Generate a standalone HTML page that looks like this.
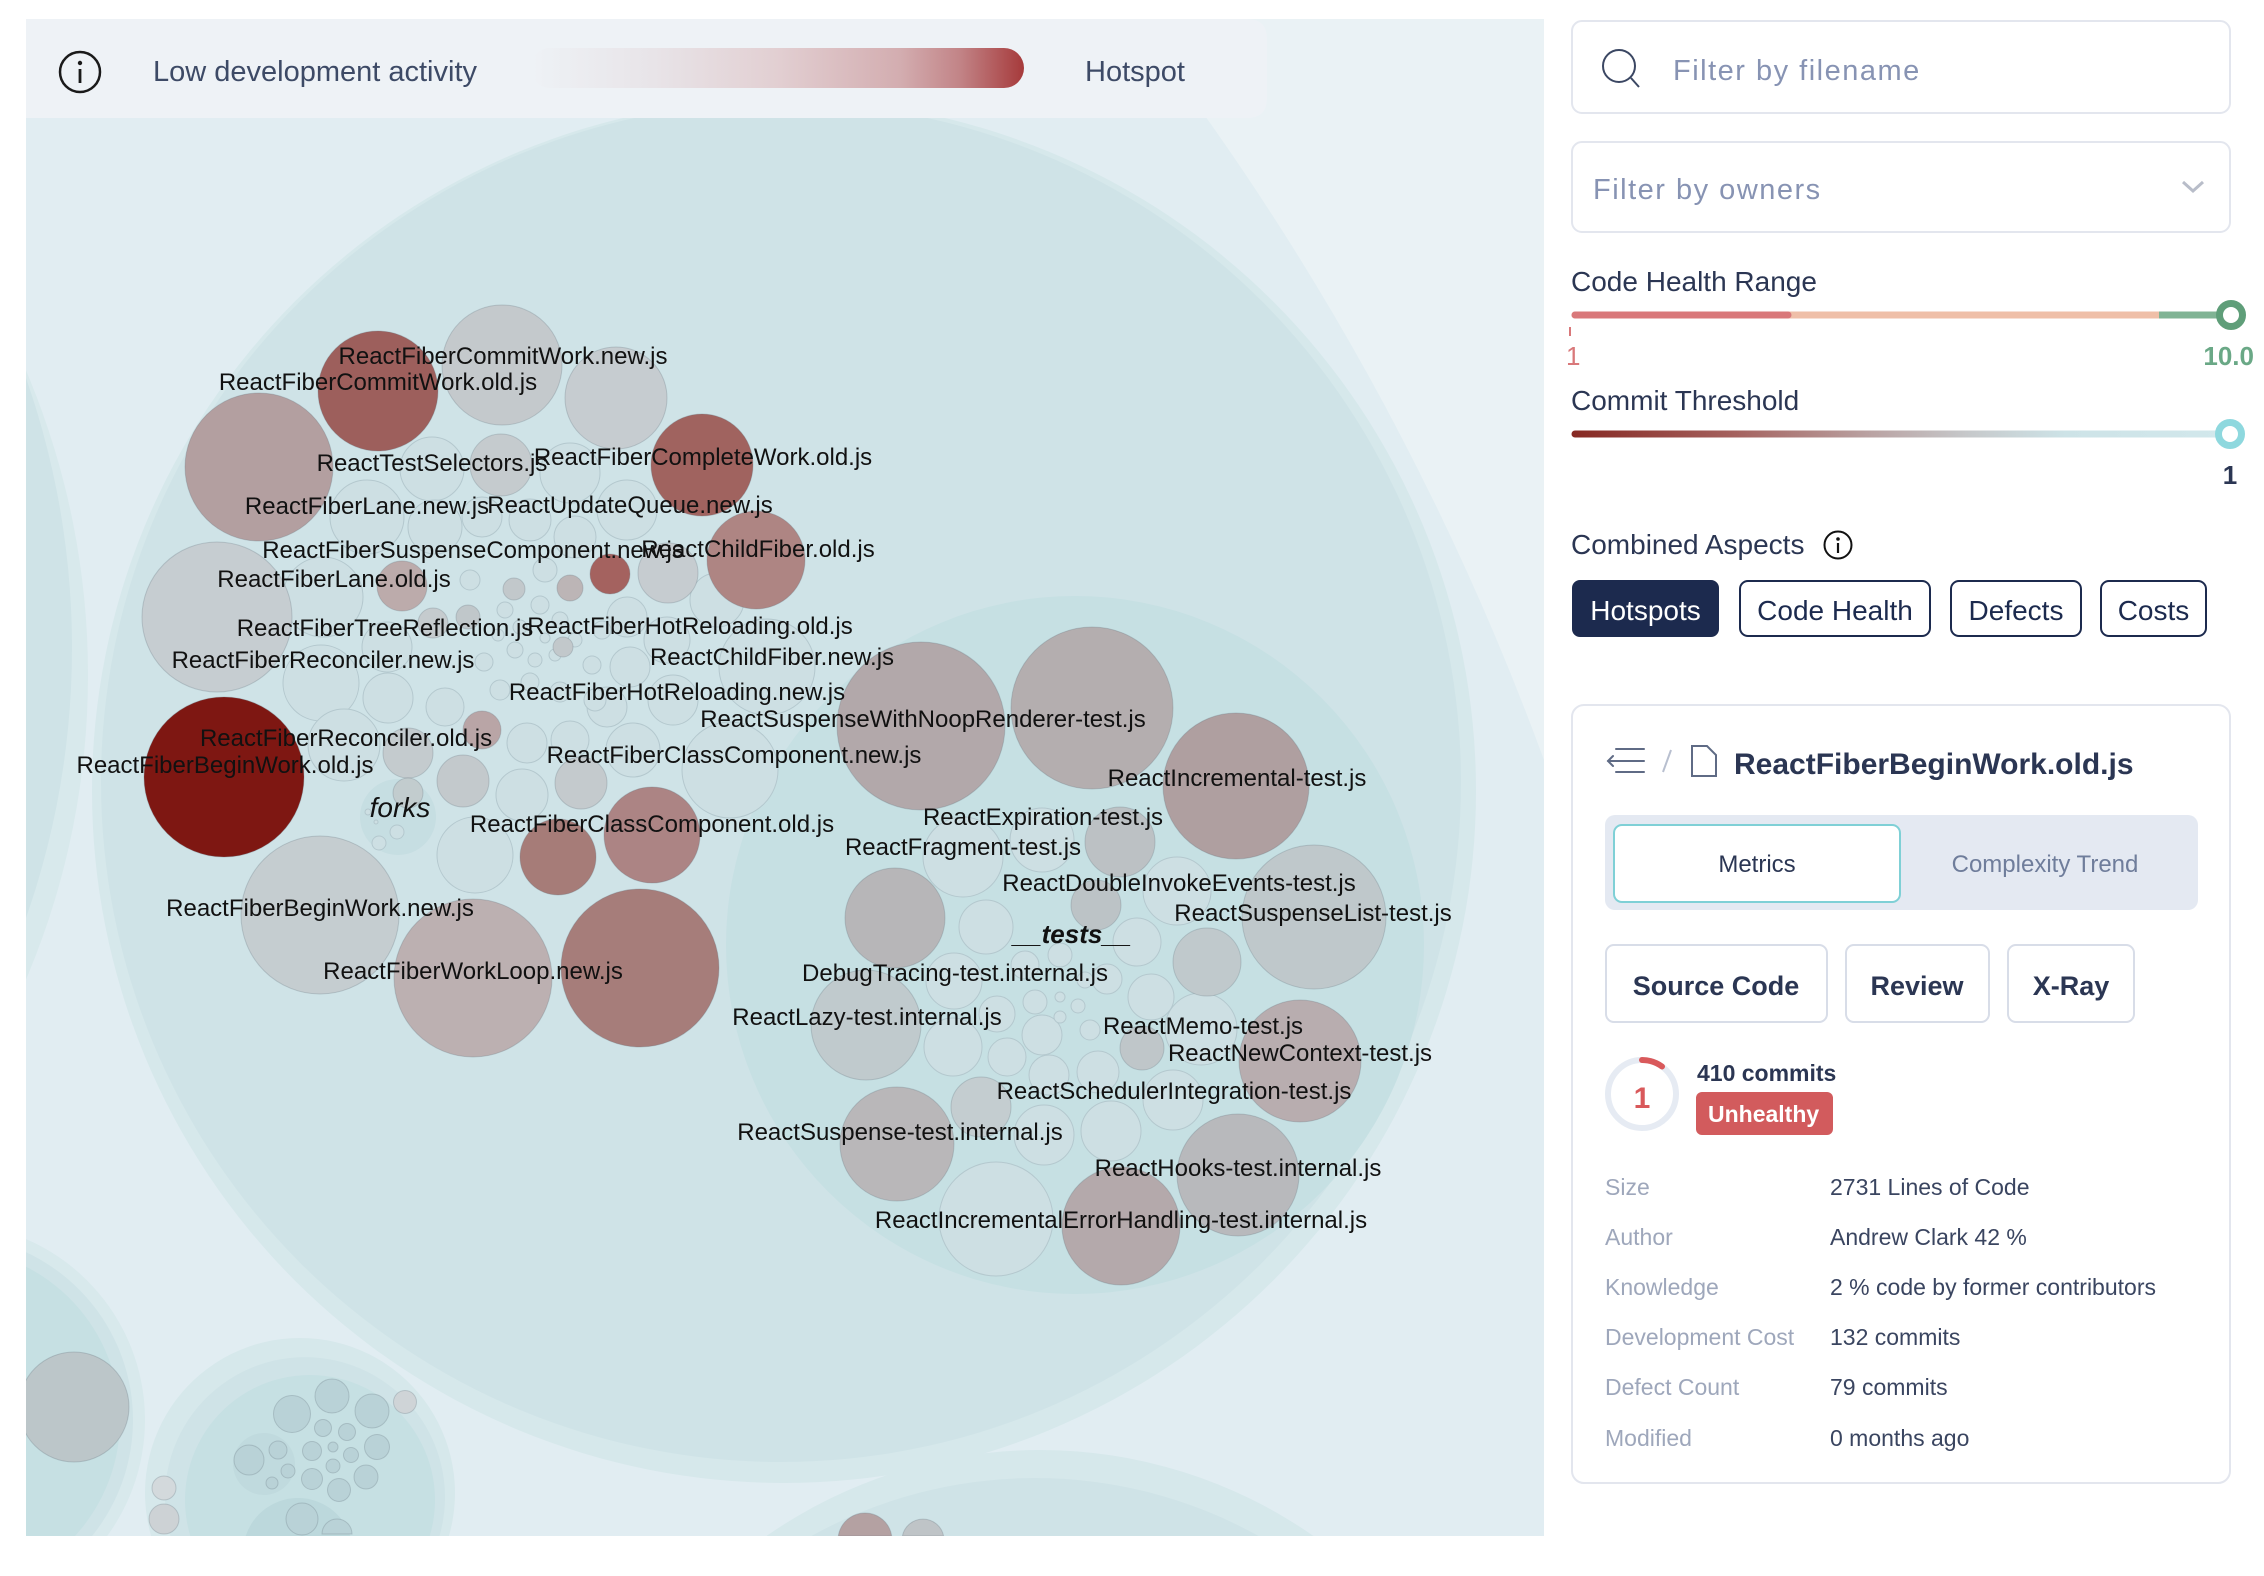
<!DOCTYPE html>
<html><head><meta charset="utf-8"><style>
html,body{margin:0;padding:0;background:#fff;width:2264px;height:1576px;overflow:hidden;}
svg{display:block;}
.t{font-size:24px;fill:#111;text-anchor:middle;}
.f{fill:#cddfe3;stroke:#b4c8ce;stroke-width:1;}
.s{stroke:rgba(100,115,125,.28);stroke-width:1;}
</style></head><body>
<svg xmlns="http://www.w3.org/2000/svg" width="2264" height="1576" viewBox="0 0 2264 1576" font-family="'Liberation Sans', Arial, sans-serif" style="overflow:hidden">
<defs>
<clipPath id="cp"><rect x="26" y="19" width="1518" height="1517"/></clipPath>
<linearGradient id="lg" gradientUnits="userSpaceOnUse" x1="530" y1="0" x2="1024" y2="0">
<stop offset="0" stop-color="#eef2f6"/><stop offset="0.25" stop-color="#e8e4e8"/><stop offset="0.5" stop-color="#e2cfd2"/><stop offset="0.75" stop-color="#d3adb0"/><stop offset="0.87" stop-color="#c28487"/><stop offset="1" stop-color="#a63a3b"/>
</linearGradient>
<linearGradient id="ct" gradientUnits="userSpaceOnUse" x1="1571" y1="0" x2="2230" y2="0">
<stop offset="0" stop-color="#862822"/><stop offset="0.25" stop-color="#a5625f"/><stop offset="0.45" stop-color="#b9a1a1"/><stop offset="0.6" stop-color="#c6c8ca"/><stop offset="0.75" stop-color="#cde3e7"/><stop offset="1" stop-color="#d2e8ec"/>
</linearGradient>
</defs>

<g clip-path="url(#cp)">
<rect x="26" y="19" width="1518" height="1517" fill="#e1edf2"/>
<path d="M1133 19 A2743 2743 0 0 1 1544 760 L1544 19 Z" fill="#eaf2f5"/>
<circle cx="-691" cy="675" r="779" fill="#d8e9ec"/>
<circle cx="-743" cy="648" r="815" fill="#cfe3e7"/>
<path d="M-211.2 1536 A197 197 0 1 1 107.2 1536 Z" fill="#d8e9ec"/>
<path d="M-196.1 1536 A185 185 0 1 1 92.1 1536 Z" fill="#cfe3e7"/>
<path d="M-179 1536 A172 172 0 1 1 75 1536 Z" fill="#c6e0e3"/>
<circle class="s" cx="74" cy="1407" r="55" fill="#bcc6c9"/>
<path d="M151.1 1536 A155 155 0 1 1 448.9 1536 Z" fill="#d6e8eb"/>
<path d="M170.5 1536 A140 140 0 1 1 439.5 1536 Z" fill="#cfe3e7"/>
<path d="M190.3 1536 A125 125 0 1 1 429.7 1536 Z" fill="#c6e0e3"/>
<circle cx="264" cy="1464" r="31" fill="#c0dade"/>
<path d="M245.7 1536 A55 55 0 0 1 350.3 1536 Z" fill="#bcd8dc"/>
<g class="s" fill="#b9d2d7">
<circle cx="332" cy="1396" r="17"/><circle cx="292" cy="1414" r="18.5"/><circle cx="372" cy="1411" r="17"/>
<circle cx="323" cy="1428" r="8.5"/><circle cx="347" cy="1432" r="8.5"/><circle cx="377" cy="1447" r="12.5"/>
<circle cx="312" cy="1451" r="9.5"/><circle cx="333" cy="1447" r="5"/><circle cx="351" cy="1455" r="7.5"/>
<circle cx="249" cy="1460" r="15"/><circle cx="278" cy="1450" r="9"/><circle cx="288" cy="1471" r="7"/>
<circle cx="272" cy="1483" r="6"/><circle cx="333" cy="1466" r="7"/><circle cx="312" cy="1479" r="10.5"/>
<circle cx="366" cy="1477" r="12"/><circle cx="339" cy="1490" r="11.5"/><circle cx="302" cy="1519" r="16"/>
<path d="M322 1534 A15 15 0 1 1 352 1534 Z"/>
</g>
<circle class="s" cx="405" cy="1402" r="11.5" fill="#cfd4d7"/>
<circle class="s" cx="164" cy="1488" r="12" fill="#d3d9dc"/>
<circle class="s" cx="164" cy="1519" r="15" fill="#cdd2d5"/>
<path d="M766.5 1536 A478 478 0 0 1 1313.5 1536 Z" fill="#d6e8eb"/>
<path d="M811.4 1536 A460 460 0 0 1 1258.6 1536 Z" fill="#cfe3e7"/>
<path class="s" d="M838.3 1536 A27 27 0 0 1 891.7 1536 Z" fill="#b4a1a2"/>
<path class="s" d="M902.4 1536 A21 21 0 0 1 943.6 1536 Z" fill="#bfc4c7"/>
<circle class="f" cx="855" cy="1470" r="4"/><circle class="f" cx="862" cy="1466" r="3"/><circle class="f" cx="842" cy="1473" r="2"/>

<circle cx="784" cy="791" r="692" fill="#d6e8eb"/>
<circle cx="781" cy="782" r="680" fill="#cfe3e7"/>
<circle cx="1075" cy="945" r="349" fill="#c6e0e3"/>
<circle cx="398" cy="817" r="38" fill="#c6dee2"/>

<g class="f">
<circle cx="432" cy="469" r="32"/><circle cx="367" cy="517" r="37"/><circle cx="435" cy="527" r="27"/>
<circle cx="482" cy="517" r="20"/><circle cx="530" cy="520" r="21"/><circle cx="575" cy="537" r="21"/>
<circle cx="627" cy="510" r="30"/><circle cx="570" cy="473" r="30"/><circle cx="627" cy="617" r="20"/>
<circle cx="667" cy="640" r="23"/><circle cx="630" cy="667" r="20"/><circle cx="673" cy="700" r="25"/>
<circle cx="607" cy="707" r="20"/><circle cx="570" cy="740" r="19"/><circle cx="527" cy="743" r="20"/>
<circle cx="323" cy="597" r="40"/><circle cx="387" cy="647" r="25"/><circle cx="321" cy="683" r="38"/>
<circle cx="388" cy="698" r="25"/><circle cx="445" cy="707" r="19"/><circle cx="344" cy="745" r="36"/>
<circle cx="475" cy="855" r="38"/><circle cx="522" cy="795" r="26"/><circle cx="730" cy="770" r="48"/>
<circle cx="767" cy="667" r="48"/><circle cx="633" cy="750" r="27"/><circle cx="717" cy="600" r="27"/>
<circle cx="505" cy="610" r="8"/><circle cx="520" cy="627" r="7"/><circle cx="540" cy="605" r="9"/>
<circle cx="560" cy="620" r="8"/><circle cx="575" cy="640" r="7"/><circle cx="555" cy="655" r="6"/>
<circle cx="535" cy="660" r="7"/><circle cx="515" cy="650" r="8"/><circle cx="498" cy="635" r="6"/>
<circle cx="545" cy="638" r="5"/><circle cx="530" cy="682" r="9"/><circle cx="560" cy="692" r="10"/>
<circle cx="592" cy="665" r="9"/><circle cx="595" cy="700" r="11"/><circle cx="500" cy="690" r="10"/>
<circle cx="484" cy="662" r="9"/><circle cx="602" cy="630" r="9"/><circle cx="470" cy="580" r="10"/>
<circle cx="545" cy="570" r="12"/><circle cx="397" cy="832" r="7"/><circle cx="379" cy="843" r="7"/>
<circle cx="368" cy="812" r="3"/><circle cx="376" cy="822" r="2"/>
</g>
<g class="s">
<circle cx="378" cy="391" r="60" fill="#9d5f5c"/>
<circle cx="502" cy="365" r="60" fill="#c4c9cc"/>
<circle cx="616" cy="398" r="51" fill="#c6ccd0"/>
<circle cx="259" cy="467" r="74" fill="#b39fa0"/>
<circle cx="702" cy="465" r="51" fill="#a0635f"/>
<circle cx="217" cy="617" r="75" fill="#c6cdd1"/>
<circle cx="756" cy="560" r="49" fill="#ae8583"/>
<circle cx="610" cy="574" r="20" fill="#a4625f"/>
<circle cx="501" cy="465" r="31" fill="#c5cbce"/>
<circle cx="402" cy="586" r="25" fill="#bcabab"/>
<circle cx="570" cy="588" r="13" fill="#bcb5b6"/>
<circle cx="514" cy="589" r="11" fill="#c2c8cb"/>
<circle cx="668" cy="573" r="30" fill="#c6ccd0"/>
<circle cx="482" cy="730" r="19" fill="#b9a5a6"/>
<circle cx="463" cy="781" r="26" fill="#c3c9cc"/>
<circle cx="408" cy="753" r="25" fill="#c4cbce"/>
<circle cx="581" cy="783" r="26" fill="#c4cacd"/>
<circle cx="468" cy="617" r="12" fill="#c0c7ca"/>
<circle cx="433" cy="623" r="15" fill="#c5cbce"/>
<circle cx="563" cy="647" r="10" fill="#c2c8cb"/>
<circle cx="408" cy="793" r="15" fill="#c2ccce"/>
<circle cx="224" cy="777" r="80" fill="#7e1712"/>
<circle cx="320" cy="915" r="79" fill="#c5cdd0"/>
<circle cx="473" cy="978" r="79" fill="#bcb0b1"/>
<circle cx="640" cy="968" r="79" fill="#a67d7a"/>
<circle cx="558" cy="857" r="38" fill="#a67c78"/>
<circle cx="652" cy="835" r="48" fill="#ac8484"/>
</g>
<g class="f">
<circle cx="996" cy="1219" r="57"/><circle cx="963" cy="857" r="40"/><circle cx="1042" cy="840" r="32"/>
<circle cx="1177" cy="891" r="34"/><circle cx="986" cy="927" r="27"/><circle cx="1137" cy="942" r="24"/>
<circle cx="1151" cy="997" r="23"/><circle cx="954" cy="981" r="28"/><circle cx="997" cy="1014" r="18"/>
<circle cx="1042" cy="1035" r="20"/><circle cx="953" cy="1047" r="29"/><circle cx="1007" cy="1057" r="19"/>
<circle cx="1049" cy="1075" r="20"/><circle cx="1098" cy="1072" r="21"/><circle cx="1044" cy="1135" r="30"/>
<circle cx="1111" cy="1131" r="30"/><circle cx="1173" cy="1100" r="30"/><circle cx="1201" cy="1029" r="36"/>
<circle cx="1060" cy="997" r="5"/><circle cx="1078" cy="1006" r="7"/><circle cx="1060" cy="1017" r="6"/>
<circle cx="1035" cy="1002" r="12"/><circle cx="1107" cy="979" r="15"/><circle cx="1085" cy="980" r="8"/>
<circle cx="1090" cy="1030" r="10"/><circle cx="1025" cy="965" r="14"/><circle cx="1060" cy="955" r="12"/>
</g>
<g class="s">
<circle cx="921" cy="726" r="84" fill="#b2a8aa"/>
<circle cx="1092" cy="708" r="81" fill="#b4aeaf"/>
<circle cx="1236" cy="786" r="73" fill="#af9fa0"/>
<circle cx="1314" cy="917" r="72" fill="#bfc8cb"/>
<circle cx="895" cy="918" r="50" fill="#b7b6b8"/>
<circle cx="866" cy="1025" r="55" fill="#c0cacd"/>
<circle cx="1300" cy="1061" r="61" fill="#b8adaf"/>
<circle cx="897" cy="1144" r="57" fill="#b9b7b9"/>
<circle cx="1238" cy="1175" r="61" fill="#b8b9bc"/>
<circle cx="1121" cy="1226" r="59" fill="#b4a9ab"/>
<circle cx="1120" cy="842" r="35" fill="#bcc1c4"/>
<circle cx="1096" cy="905" r="25" fill="#bcc3c6"/>
<circle cx="1207" cy="962" r="34" fill="#c0c9cc"/>
<circle cx="1142" cy="1048" r="22" fill="#bfc6c9"/>
<circle cx="981" cy="1107" r="30" fill="#c4cdd0"/>
</g>

<g class="t">
<text x="503" y="364">ReactFiberCommitWork.new.js</text>
<text x="378" y="390">ReactFiberCommitWork.old.js</text>
<text x="432" y="471">ReactTestSelectors.js</text>
<text x="703" y="465">ReactFiberCompleteWork.old.js</text>
<text x="367" y="514">ReactFiberLane.new.js</text>
<text x="630" y="513">ReactUpdateQueue.new.js</text>
<text x="473" y="558">ReactFiberSuspenseComponent.new.js</text>
<text x="758" y="557">ReactChildFiber.old.js</text>
<text x="334" y="587">ReactFiberLane.old.js</text>
<text x="385" y="636">ReactFiberTreeReflection.js</text>
<text x="690" y="634">ReactFiberHotReloading.old.js</text>
<text x="323" y="668">ReactFiberReconciler.new.js</text>
<text x="772" y="665">ReactChildFiber.new.js</text>
<text x="677" y="700">ReactFiberHotReloading.new.js</text>
<text x="923" y="727">ReactSuspenseWithNoopRenderer-test.js</text>
<text x="346" y="746">ReactFiberReconciler.old.js</text>
<text x="225" y="773">ReactFiberBeginWork.old.js</text>
<text x="734" y="763">ReactFiberClassComponent.new.js</text>
<text x="1237" y="786">ReactIncremental-test.js</text>
<text x="400" y="817" font-size="28" font-style="italic">forks</text>
<text x="652" y="832">ReactFiberClassComponent.old.js</text>
<text x="1043" y="825">ReactExpiration-test.js</text>
<text x="963" y="855">ReactFragment-test.js</text>
<text x="1179" y="891">ReactDoubleInvokeEvents-test.js</text>
<text x="320" y="916">ReactFiberBeginWork.new.js</text>
<text x="1313" y="921">ReactSuspenseList-test.js</text>
<text x="1072" y="943" font-size="26" font-style="italic" font-weight="bold">__tests__</text>
<text x="955" y="981">DebugTracing-test.internal.js</text>
<text x="473" y="979">ReactFiberWorkLoop.new.js</text>
<text x="867" y="1025">ReactLazy-test.internal.js</text>
<text x="1203" y="1034">ReactMemo-test.js</text>
<text x="1300" y="1061">ReactNewContext-test.js</text>
<text x="1174" y="1099">ReactSchedulerIntegration-test.js</text>
<text x="900" y="1140">ReactSuspense-test.internal.js</text>
<text x="1238" y="1176">ReactHooks-test.internal.js</text>
<text x="1121" y="1228">ReactIncrementalErrorHandling-test.internal.js</text>
</g>

<path d="M26 19 H1247 Q1267 19 1267 39 V98 Q1267 118 1247 118 H26 Z" fill="#eef2f6"/>
<circle cx="80" cy="72" r="20" fill="none" stroke="#1a1a1a" stroke-width="2.5"/>
<circle cx="80" cy="63" r="2.2" fill="#1a1a1a"/>
<line x1="80" y1="69" x2="80" y2="83" stroke="#1a1a1a" stroke-width="2.8"/>
<text x="153" y="81" font-size="29" fill="#3d4a66">Low development activity</text>
<rect x="530" y="48" width="494" height="40" rx="20" fill="url(#lg)"/>
<text x="1085" y="81" font-size="29" fill="#3d4a66">Hotspot</text>
</g>

<rect x="1572" y="21" width="658" height="92" rx="10" fill="#fff" stroke="#e3e6ee" stroke-width="2"/>
<circle cx="1619" cy="66" r="16" fill="none" stroke="#3b4763" stroke-width="2"/>
<line x1="1631" y1="78" x2="1639" y2="87" stroke="#3b4763" stroke-width="2"/>
<text x="1673" y="80" font-size="29" fill="#8793b3" letter-spacing="1.5">Filter by filename</text>

<rect x="1572" y="142" width="658" height="90" rx="10" fill="#fff" stroke="#e3e6ee" stroke-width="2"/>
<text x="1593" y="199" font-size="29" fill="#8793b3" letter-spacing="1.5">Filter by owners</text>
<polyline points="2183,182 2193,191 2203,182" fill="none" stroke="#b8bdc9" stroke-width="3"/>

<text x="1571" y="291" font-size="28" fill="#2b3653">Code Health Range</text>
<line x1="1575" y1="315" x2="2225" y2="315" stroke="#efbfa8" stroke-width="7" stroke-linecap="round"/>
<line x1="1575" y1="315" x2="1788" y2="315" stroke="#d9787a" stroke-width="7" stroke-linecap="round"/>
<line x1="2159" y1="315" x2="2225" y2="315" stroke="#80b394" stroke-width="7"/>
<circle cx="2231" cy="315" r="11.5" fill="#fff" stroke="#5f9e79" stroke-width="7"/>
<rect x="1569" y="327" width="2" height="9" fill="#d9787a"/>
<text x="1566" y="365" font-size="26" fill="#d9787a">1</text>
<text x="2254" y="365" font-size="26" font-weight="bold" fill="#6aa886" text-anchor="end">10.0</text>

<text x="1571" y="410" font-size="28" fill="#2b3653">Commit Threshold</text>
<line x1="1575" y1="434" x2="2225" y2="434" stroke="url(#ct)" stroke-width="7" stroke-linecap="round"/>
<circle cx="2230" cy="434" r="11.5" fill="#fff" stroke="#8ed8de" stroke-width="7"/>
<text x="2230" y="484" font-size="26" font-weight="bold" fill="#2b3653" text-anchor="middle">1</text>

<text x="1571" y="554" font-size="28" fill="#2b3653">Combined Aspects</text>
<circle cx="1838" cy="545" r="13.5" fill="none" stroke="#111" stroke-width="2"/>
<circle cx="1838" cy="539" r="1.8" fill="#111"/>
<line x1="1838" y1="543" x2="1838" y2="553" stroke="#111" stroke-width="2.2"/>

<rect x="1572" y="580" width="147" height="57" rx="8" fill="#1c2a4e"/>
<text x="1645.5" y="620" font-size="28" fill="#fff" text-anchor="middle">Hotspots</text>
<rect x="1740" y="581" width="190" height="55" rx="8" fill="#fff" stroke="#1c2a4e" stroke-width="2"/>
<text x="1835" y="620" font-size="28" fill="#1c2a4e" text-anchor="middle">Code Health</text>
<rect x="1951" y="581" width="130" height="55" rx="8" fill="#fff" stroke="#1c2a4e" stroke-width="2"/>
<text x="2016" y="620" font-size="28" fill="#1c2a4e" text-anchor="middle">Defects</text>
<rect x="2101" y="581" width="105" height="55" rx="8" fill="#fff" stroke="#1c2a4e" stroke-width="2"/>
<text x="2153.5" y="620" font-size="28" fill="#1c2a4e" text-anchor="middle">Costs</text>

<rect x="1572" y="705" width="658" height="778" rx="12" fill="#fff" stroke="#e3e6ee" stroke-width="2"/>
<g stroke="#5f6b85" stroke-width="2" fill="none" stroke-linecap="round">
<line x1="1616" y1="749" x2="1644" y2="749"/>
<line x1="1608" y1="761" x2="1644" y2="761"/>
<polyline points="1613,756 1608,761 1613,766"/>
<line x1="1616" y1="772" x2="1644" y2="772"/>
<path d="M1692 746 H1707 L1716 755 V776 H1692 Z"/>
</g>
<line x1="1671" y1="750" x2="1663" y2="772" stroke="#b8bfcf" stroke-width="2"/>
<text x="1734" y="774" font-size="30" font-weight="bold" fill="#2b3653">ReactFiberBeginWork.old.js</text>

<rect x="1605" y="815" width="593" height="95" rx="10" fill="#e4e9f2"/>
<rect x="1614" y="825" width="286" height="77" rx="8" fill="#fff" stroke="#7fd0d6" stroke-width="2"/>
<text x="1757" y="872" font-size="24" fill="#2b3653" text-anchor="middle">Metrics</text>
<text x="2045" y="872" font-size="24" fill="#6f7d9b" text-anchor="middle">Complexity Trend</text>

<rect x="1606" y="945" width="221" height="77" rx="8" fill="#fff" stroke="#d8dde8" stroke-width="2"/>
<text x="1716" y="995" font-size="27" font-weight="bold" fill="#2b3653" text-anchor="middle">Source Code</text>
<rect x="1846" y="945" width="143" height="77" rx="8" fill="#fff" stroke="#d8dde8" stroke-width="2"/>
<text x="1917" y="995" font-size="27" font-weight="bold" fill="#2b3653" text-anchor="middle">Review</text>
<rect x="2008" y="945" width="126" height="77" rx="8" fill="#fff" stroke="#d8dde8" stroke-width="2"/>
<text x="2071" y="995" font-size="27" font-weight="bold" fill="#2b3653" text-anchor="middle">X-Ray</text>

<circle cx="1642" cy="1094" r="34" fill="none" stroke="#e6ebf3" stroke-width="6"/>
<path d="M1642 1060 A34 34 0 0 1 1662 1066.5" fill="none" stroke="#d9595b" stroke-width="6" stroke-linecap="round"/>
<text x="1642" y="1108" font-size="30" font-weight="bold" fill="#d9595b" text-anchor="middle">1</text>
<text x="1697" y="1081" font-size="23" font-weight="bold" fill="#2b3653">410 commits</text>
<rect x="1696" y="1092" width="137" height="43" rx="6" fill="#d25b5d"/>
<text x="1708" y="1122" font-size="23" font-weight="bold" fill="#fff">Unhealthy</text>

<g font-size="23">
<text x="1605" y="1195" fill="#9ea7bb">Size</text><text x="1830" y="1195" fill="#3a4560">2731 Lines of Code</text>
<text x="1605" y="1245" fill="#9ea7bb">Author</text><text x="1830" y="1245" fill="#3a4560">Andrew Clark 42 %</text>
<text x="1605" y="1295" fill="#9ea7bb">Knowledge</text><text x="1830" y="1295" fill="#3a4560">2 % code by former contributors</text>
<text x="1605" y="1345" fill="#9ea7bb">Development Cost</text><text x="1830" y="1345" fill="#3a4560">132 commits</text>
<text x="1605" y="1395" fill="#9ea7bb">Defect Count</text><text x="1830" y="1395" fill="#3a4560">79 commits</text>
<text x="1605" y="1446" fill="#9ea7bb">Modified</text><text x="1830" y="1446" fill="#3a4560">0 months ago</text>
</g>
</svg>
</body></html>
